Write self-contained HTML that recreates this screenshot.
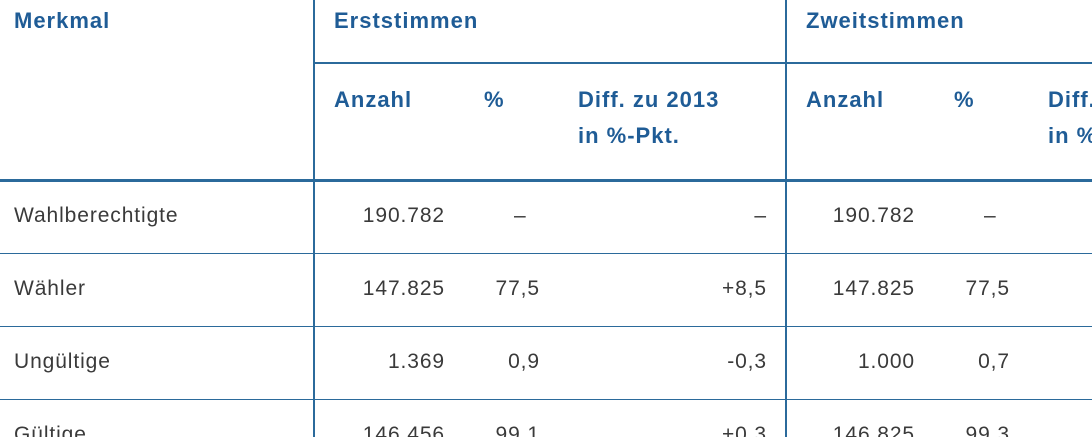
<!DOCTYPE html>
<html><head><meta charset="utf-8"><style>
html,body{margin:0;width:1092px;height:437px;overflow:hidden}
body{background:#fff;position:relative;font-family:"Liberation Sans",sans-serif}
.h{position:absolute;color:#1f5c96;font-weight:bold;font-size:22px;letter-spacing:1px;line-height:24px;white-space:nowrap;overflow:hidden}
.t{position:absolute;color:#3a3a3a;font-size:21px;letter-spacing:0.9px;line-height:24px;white-space:nowrap}
.r{text-align:right}
.l{position:absolute;background:#2b6a9b}
</style></head><body>
<div class="l" style="left:313px;top:0;width:2px;height:437px"></div>
<div class="l" style="left:785px;top:0;width:2px;height:437px"></div>
<div class="l" style="left:313px;top:62px;width:779px;height:2px"></div>
<div class="l" style="left:0;top:179px;width:1092px;height:3px"></div>
<div class="l" style="left:0;top:253px;width:1092px;height:1px"></div>
<div class="l" style="left:0;top:326px;width:1092px;height:1px"></div>
<div class="l" style="left:0;top:399px;width:1092px;height:1px"></div>

<div class="h" style="left:14px;top:9px">Merkmal</div>
<div class="h" style="left:334px;top:9px">Erststimmen</div>
<div class="h" style="left:806px;top:9px">Zweitstimmen</div>
<div class="h" style="left:334px;top:88px">Anzahl</div>
<div class="h" style="left:484px;top:88px">%</div>
<div class="h" style="left:578px;top:88px">Diff. zu 2013</div>
<div class="h" style="left:578px;top:124px">in %-Pkt.</div>
<div class="h" style="left:806px;top:88px">Anzahl</div>
<div class="h" style="left:954px;top:88px">%</div>
<div class="h" style="left:1048px;top:88px;width:44px">Diff. zu 2013</div>
<div class="h" style="left:1048px;top:124px;width:44px">in %-Pkt.</div>

<div class="t" style="left:14px;top:204px">Wahlberechtigte</div>
<div class="t" style="left:14px;top:277px">Wähler</div>
<div class="t" style="left:14px;top:350px">Ungültige</div>
<div class="t" style="left:14px;top:423px">Gültige</div>

<div class="t r" style="left:300px;width:145px;top:204px">190.782</div>
<div class="t r" style="left:300px;width:145px;top:277px">147.825</div>
<div class="t r" style="left:300px;width:145px;top:350px">1.369</div>
<div class="t r" style="left:300px;width:145px;top:423px">146.456</div>

<div class="t r" style="left:460px;width:80px;top:204px">–&nbsp;&nbsp;</div>
<div class="t r" style="left:460px;width:80px;top:277px">77,5</div>
<div class="t r" style="left:460px;width:80px;top:350px">0,9</div>
<div class="t r" style="left:460px;width:80px;top:423px">99,1</div>

<div class="t r" style="left:640px;width:127px;top:204px">–</div>
<div class="t r" style="left:640px;width:127px;top:277px">+8,5</div>
<div class="t r" style="left:640px;width:127px;top:350px">-0,3</div>
<div class="t r" style="left:640px;width:127px;top:423px">+0,3</div>

<div class="t r" style="left:770px;width:145px;top:204px">190.782</div>
<div class="t r" style="left:770px;width:145px;top:277px">147.825</div>
<div class="t r" style="left:770px;width:145px;top:350px">1.000</div>
<div class="t r" style="left:770px;width:145px;top:423px">146.825</div>

<div class="t r" style="left:930px;width:80px;top:204px">–&nbsp;&nbsp;</div>
<div class="t r" style="left:930px;width:80px;top:277px">77,5</div>
<div class="t r" style="left:930px;width:80px;top:350px">0,7</div>
<div class="t r" style="left:930px;width:80px;top:423px">99,3</div>
</body></html>
